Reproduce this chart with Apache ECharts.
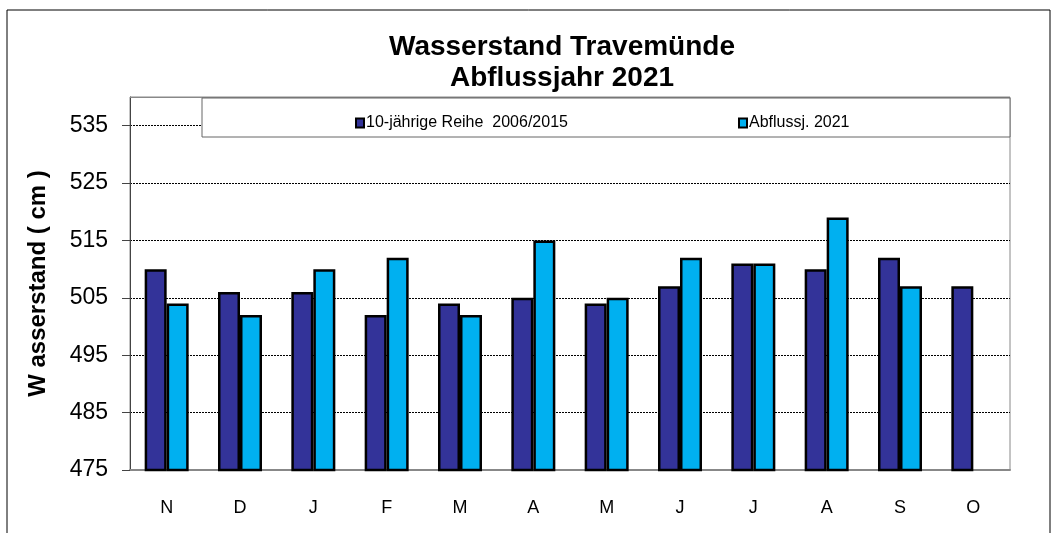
<!DOCTYPE html>
<html>
<head>
<meta charset="utf-8">
<script src="https://cdn.jsdelivr.net/npm/echarts@6/dist/echarts.min.js"></script>
<style>
  html, body { margin: 0; padding: 0; background: #fff; }
  #chart { width: 1056px; height: 533px; }
</style>
</head>
<body>
<div id="chart"></div>
<script>
// Monate Nov..Okt
const months = ['N', 'D', 'J', 'F', 'M', 'A', 'M', 'J', 'J', 'A', 'S', 'O'];
const reihe = [510, 506, 506, 502, 504, 505, 504, 507, 511, 510, 512, 507];
const abfluss2021 = [504, 502, 510, 512, 502, 515, 505, 512, 511, 519, 507, null];
const seriesNames = ['10-jährige Reihe  2006/2015', 'Abflussj. 2021'];

const font = 'Liberation Sans, Arial, sans-serif';

var myChart = echarts.init(document.getElementById('chart'));

var option = {
  animation: false,
  backgroundColor: '#fff',
  title: {
    text: 'Wasserstand Travemünde\nAbflussjahr 2021',
    left: 557,
    textAlign: 'center',
    top: 27,
    textStyle: {
      fontFamily: font,
      fontWeight: 'bold',
      fontSize: 28,
      lineHeight: 31,
      color: '#000'
    }
  },
  graphic: [
    {
      type: 'rect',
      shape: { x: 7, y: 10, width: 1043, height: 530 },
      style: { fill: 'none', stroke: '#000', lineWidth: 1 },
      silent: true
    },
    {
      type: 'line',
      shape: { x1: 130, y1: 97.5, x2: 1010, y2: 97.5 },
      style: { stroke: '#888', lineWidth: 1 },
      z: 40,
      silent: true
    },
    {
      type: 'rect',
      shape: { x: 202, y: 98, width: 808, height: 39 },
      style: { fill: '#fff', stroke: '#666', lineWidth: 1 },
      z: 50,
      silent: true
    }
  ],
  legend: [
    {
      data: [seriesNames[0]],
      left: 350,
      top: 110,
      z: 60,
      itemWidth: 8,
      itemHeight: 9,
      icon: 'rect',
      textStyle: { fontFamily: font, fontSize: 16, color: '#000', padding: [0, 0, 0, -3] }
    },
    {
      data: [seriesNames[1]],
      left: 733,
      top: 110,
      z: 60,
      itemWidth: 8,
      itemHeight: 9,
      icon: 'rect',
      textStyle: { fontFamily: font, fontSize: 16, color: '#000', padding: [0, 0, 0, -3] }
    }
  ],
  grid: {
    left: 130,
    right: 46,
    top: 97,
    bottom: 63,
    show: true,
    borderColor: '#888',
    borderWidth: 1
  },
  xAxis: {
    type: 'category',
    data: months,
    axisLine: { show: true, lineStyle: { color: '#888', width: 2 } },
    axisTick: { show: false },
    axisLabel: { fontFamily: font, fontSize: 18, color: '#000', margin: 29 }
  },
  yAxis: {
    type: 'value',
    min: 475,
    max: 540,
    interval: 10,
    name: 'W asserstand ( cm )',
    nameLocation: 'middle',
    nameGap: 80,
    nameTextStyle: { fontFamily: font, fontWeight: 'bold', fontSize: 24, color: '#000' },
    axisLine: { show: true, lineStyle: { color: '#444', width: 1 } },
    axisTick: { show: true, inside: false, length: 8, lineStyle: { color: '#444' } },
    axisLabel: {
      fontFamily: font,
      fontSize: 23,
      color: '#000',
      margin: 22,
      showMaxLabel: false
    },
    splitLine: { show: true, lineStyle: { color: '#000', type: [2, 1], width: 1 } }
  },
  series: [
    {
      name: seriesNames[0],
      type: 'bar',
      data: reihe,
      barWidth: '30%',
      barGap: '0%',
      itemStyle: { color: '#333399', borderColor: '#000', borderWidth: 2.5 }
    },
    {
      name: seriesNames[1],
      type: 'bar',
      data: abfluss2021,
      barWidth: '30%',
      itemStyle: { color: '#00B0F0', borderColor: '#000', borderWidth: 2.5 }
    }
  ]
};

myChart.setOption(option);
</script>
</body>
</html>
